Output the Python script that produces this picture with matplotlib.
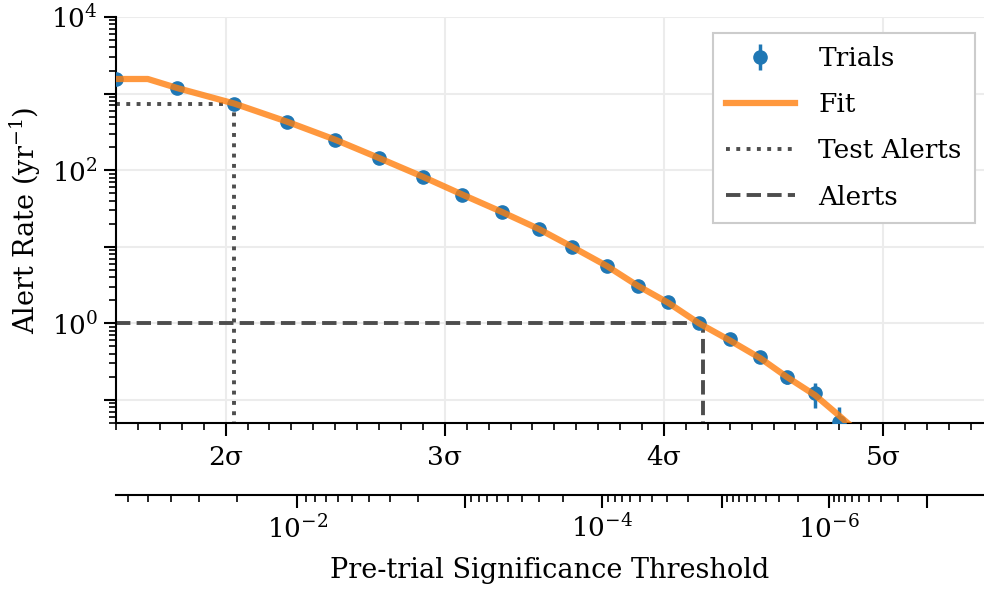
import math
import matplotlib
matplotlib.use('Agg')
import matplotlib.pyplot as plt
from matplotlib.ticker import FixedLocator, FixedFormatter, NullFormatter, LogLocator

plt.rcParams['font.family'] = ['DejaVu Serif']
plt.rcParams['mathtext.fontset'] = 'dejavuserif'

# trial points (sigma threshold, alert rate per year, error)
trial_sigma = [1.50, 1.78, 2.04, 2.28, 2.50, 2.70, 2.90, 3.08, 3.26, 3.43, 3.58,
               3.74, 3.88, 4.02, 4.16, 4.30, 4.44, 4.56, 4.69, 4.80]
trial_rate = [1550, 1180, 729, 424, 247, 144, 81, 47, 28.2, 16.9, 9.85,
              5.56, 3.05, 1.88, 1.0, 0.62, 0.36, 0.197, 0.122, 0.051]
trial_err = [10, 8, 6, 4, 3, 2, 1, 0.6, 0.4, 0.3, 0.2,
             0.15, 0.1, 0.07, 0.05, 0.03, 0.02, 0.035, 0.043, 0.03]

# fitted curve
fit_sigma = [1.50, 1.645, 1.78, 2.04, 2.28, 2.50, 2.70, 2.90, 3.08, 3.26, 3.43,
             3.58, 3.74, 3.88, 4.02, 4.16, 4.30, 4.44, 4.56, 4.69, 4.80, 4.90]
fit_rate = [1550, 1550, 1180, 740, 430, 250, 144, 82, 48, 28.5, 17, 10,
            5.6, 3.1, 1.85, 1.0, 0.60, 0.35, 0.20, 0.115, 0.062, 0.035]

test_sigma, test_rate = 2.04, 729
alert_sigma, alert_rate = 4.18, 1.0

pvals_major = [1e-2, 1e-3, 1e-4, 1e-5, 1e-6, 1e-7]
pvals_labels = ['$10^{-2}$', '', '$10^{-4}$', '', '$10^{-6}$', '']


def p2sig(p):
    # inverse of the one-sided normal tail probability (bisection)
    lo, hi = -10.0, 40.0
    for _ in range(200):
        mid = 0.5 * (lo + hi)
        if 0.5 * math.erfc(mid / math.sqrt(2)) > p:
            lo = mid
        else:
            hi = mid
    return 0.5 * (lo + hi)


xmin, xmax = 1.5, 5.46

fig = plt.figure(figsize=(9.84, 5.92), dpi=100)
ax = fig.add_axes([0.1179, 0.2855, 0.8821, 0.6858])

h_trials = ax.errorbar(trial_sigma, trial_rate, yerr=trial_err, fmt='o', color='C0', ms=9.5,
                       elinewidth=2.5, capsize=0, label='Trials', zorder=3)
h_fit, = ax.plot(fit_sigma, fit_rate, color='C1', lw=4.5, alpha=0.8, label='Fit', zorder=4)
h_test, = ax.plot([xmin, test_sigma], [test_rate, test_rate], ':', color='0.3', lw=2.8,
                  label='Test Alerts')
ax.plot([test_sigma, test_sigma], [0.01, test_rate], ':', color='0.3', lw=2.8)
h_alert, = ax.plot([xmin, alert_sigma], [alert_rate, alert_rate], '--', color='0.3', lw=2.8,
                   label='Alerts')
ax.plot([alert_sigma, alert_sigma], [0.01, alert_rate], '--', color='0.3', lw=2.8)

ax.set_yscale('log')
ax.set_xlim(xmin, xmax)
ax.set_ylim(0.05, 1e4)

ax.set_xticks([2, 3, 4, 5])
ax.set_xticklabels(['2σ', '3σ', '4σ', '5σ'])
ax.xaxis.set_minor_locator(FixedLocator([x / 10 for x in range(15, 55)]))
ax.yaxis.set_major_locator(FixedLocator([1e-1, 1, 10, 100, 1e3, 1e4]))
ax.yaxis.set_major_formatter(FixedFormatter(['', '$10^{0}$', '', '$10^{2}$', '', '$10^{4}$']))
ax.yaxis.set_minor_locator(LogLocator(base=10, subs=range(2, 10), numticks=20))
ax.yaxis.set_minor_formatter(NullFormatter())

ax.grid(True, which='major', color='#ececec', lw=1.5, zorder=0)
ax.set_axisbelow(True)
for s in ['top', 'right']:
    ax.spines[s].set_visible(False)
for s in ['left', 'bottom']:
    ax.spines[s].set_linewidth(1.5)
ax.tick_params(which='major', length=9, width=1.5, labelsize=19)
ax.tick_params(which='minor', length=5, width=1.2)
ax.tick_params(axis='x', pad=7)
ax.tick_params(axis='y', pad=4)
ax.set_ylabel('Alert Rate (yr$^{-1}$)', fontsize=19.5, labelpad=6)

leg = ax.legend([h_trials, h_fit, h_test, h_alert], ['Trials', 'Fit', 'Test Alerts', 'Alerts'],
                loc='upper right', bbox_to_anchor=(0.9896, 0.9606), borderaxespad=0,
                fontsize=19, fancybox=False, edgecolor='#cccccc', framealpha=1,
                handlelength=2.6, labelspacing=0.8, borderpad=0.5, handletextpad=0.9)
leg.get_frame().set_linewidth(1.5)

# secondary axis with pre-trial p-value
ax2 = ax.twiny()
ax2.set_xlim(xmin, xmax)
ax2.xaxis.set_ticks_position('bottom')
ax2.xaxis.set_label_position('bottom')
ax2.spines['bottom'].set_position(('outward', 52))
ax2.spines['bottom'].set_linewidth(1.5)
for s in ['top', 'right', 'left']:
    ax2.spines[s].set_visible(False)
major_pos = [p2sig(p) for p in pvals_major]
minor_pos = []
for e in range(1, 8):
    for k in range(2, 10):
        sg = p2sig(k * 10.0 ** (-e))
        if xmin <= sg <= xmax:
            minor_pos.append(sg)
ax2.xaxis.set_major_locator(FixedLocator(major_pos))
ax2.xaxis.set_major_formatter(FixedFormatter(pvals_labels))
ax2.xaxis.set_minor_locator(FixedLocator(minor_pos))
ax2.tick_params(which='major', length=9, width=1.5, labelsize=19, pad=5)
ax2.tick_params(which='minor', length=5, width=1.2)
ax2.set_xlabel('Pre-trial Significance Threshold', fontsize=19.5, labelpad=10)

fig.savefig('out.png', dpi=100)
